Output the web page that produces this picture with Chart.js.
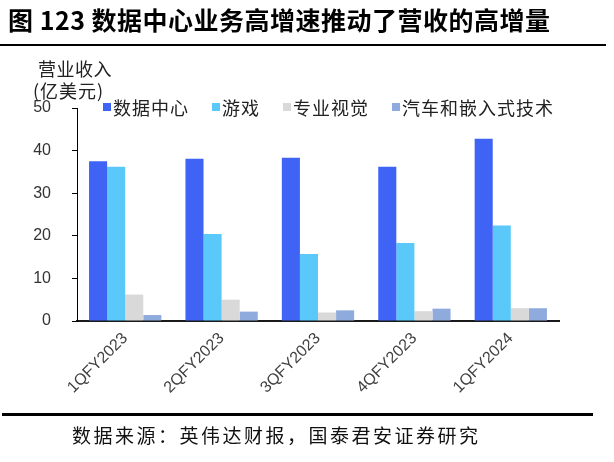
<!DOCTYPE html>
<html>
<head>
<meta charset="utf-8">
<script src="https://cdn.jsdelivr.net/npm/chart.js@4.4.0/dist/chart.umd.min.js"></script>
<style>
  html, body { margin: 0; padding: 0; background: #fff; }
  body { width: 614px; height: 462px; position: relative; overflow: hidden; font-family: "Noto Sans CJK SC", sans-serif; }
  #wrap { position: absolute; left: 0; top: 0; width: 614px; height: 462px; }
  .abs { position: absolute; white-space: nowrap; }
  #title { left: 8px; top: 1px; font-size: 25px; font-weight: 700; color: #000; letter-spacing: 0.5px; line-height: 36px; }
  #line1 { left: 0; top: 44px; width: 606px; height: 2px; background: #000; }
  #line2 { left: 2px; top: 413px; width: 591px; height: 3px; background: #000; }
  #ytitle1 { left: 38px; top: 56px; font-size: 18px; color: #222; line-height: 24px; letter-spacing: 0.5px; }
  #ytitle2 { left: 33px; top: 78px; font-size: 18px; color: #222; line-height: 24px; letter-spacing: 1px; }
  #legend { left: 103px; top: 95px; height: 24px; display: flex; align-items: center; font-size: 18px; color: #222; letter-spacing: 1px; }
  .item { display: flex; align-items: center; margin-right: 23px; }
  .box { width: 8px; height: 8px; margin-right: 2px; }
  #source { left: 72px; top: 422px; font-size: 19px; color: #111; letter-spacing: 2.5px; line-height: 26px; }
</style>
</head>
<body>
<div id="wrap"><canvas id="c" width="614" height="462"></canvas></div>
<div class="abs" id="title">图 123 数据中心业务高增速推动了营收的高增量</div>
<div class="abs" id="line1"></div>
<div class="abs" id="ytitle1">营业收入</div>
<div class="abs" id="ytitle2">(亿美元)</div>
<div class="abs" id="legend"></div>
<div class="abs" id="line2"></div>
<div class="abs" id="source">数据来源：英伟达财报，国泰君安证券研究</div>
<script>
const categories = ['1QFY2023', '2QFY2023', '3QFY2023', '4QFY2023', '1QFY2024'];
const seriesNames = ['数据中心', '游戏', '专业视觉', '汽车和嵌入式技术'];
const dataCenter = [37.5, 38.1, 38.3, 36.2, 42.8];
const gaming = [36.2, 20.4, 15.7, 18.3, 22.4];
const proViz = [6.2, 5.0, 2.0, 2.3, 3.0];
const automotive = [1.4, 2.2, 2.5, 2.9, 3.0];
const yTicks = [0, 10, 20, 30, 40, 50];
const colors = ['#3F63F5', '#5BC8FA', '#D9D9D9', '#8FAADC'];

const seriesValues = [dataCenter, gaming, proViz, automotive];
const datasets = seriesValues.map((vals, i) => ({
  label: seriesNames[i],
  data: vals,
  backgroundColor: colors[i],
  borderWidth: 0,
  barPercentage: 1.0,
  categoryPercentage: 0.75
}));

// HTML legend built from the series
const legendEl = document.getElementById('legend');
datasets.forEach(ds => {
  const it = document.createElement('div');
  it.className = 'item';
  const b = document.createElement('div');
  b.className = 'box';
  b.style.background = ds.backgroundColor;
  const t = document.createElement('span');
  t.textContent = ds.label;
  it.appendChild(b); it.appendChild(t);
  legendEl.appendChild(it);
});

new Chart(document.getElementById('c'), {
  type: 'bar',
  data: { labels: categories, datasets: datasets },
  options: {
    responsive: false,
    animation: false,
    layout: { padding: { left: 0, top: 108, right: 55, bottom: 51 } },
    plugins: { legend: { display: false }, tooltip: { enabled: false } },
    scales: {
      x: {
        grid: { display: false, drawTicks: false },
        border: { display: true, color: '#1a1a1a', width: 2 },
        ticks: {
          minRotation: 45, maxRotation: 45, padding: 8,
          color: '#404040',
          font: { family: 'Liberation Sans, Arial, sans-serif', size: 16 }
        },
        afterFit: (s) => { s.height = 90; }
      },
      y: {
        min: 0, max: 50,
        afterBuildTicks: (s) => { s.ticks = yTicks.map(v => ({ value: v })); },
        grid: { display: true, drawOnChartArea: false, drawTicks: true, tickLength: 5, color: '#000', lineWidth: 1 },
        border: { display: true, color: '#000', width: 1 },
        ticks: {
          padding: 21,
          color: '#333',
          font: { family: 'Liberation Sans, Arial, sans-serif', size: 16 }
        },
        afterFit: (s) => { s.width = 77; }
      }
    }
  }
});
</script>
</body>
</html>
